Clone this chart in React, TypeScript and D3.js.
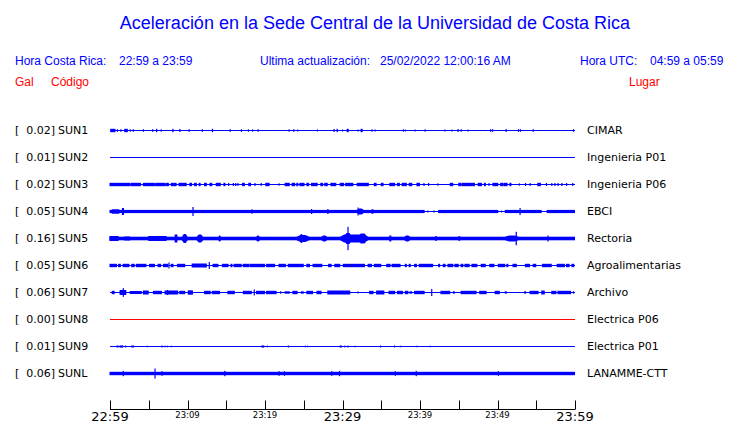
import React from "react";
import * as d3 from "d3";

// ---- data ----
const title = "Aceleración en la Sede Central de la Universidad de Costa Rica";
const stations = ["SUN1", "SUN2", "SUN3", "SUN4", "SUN5", "SUN6", "SUN7", "SUN8", "SUN9", "SUNL"];
const places = ["CIMAR", "Ingenieria P01", "Ingenieria P06", "EBCI", "Rectoria", "Agroalimentarias", "Archivo", "Electrica P06", "Electrica P01", "LANAMME-CTT"];
const peakGal = ["0.02", "0.01", "0.02", "0.05", "0.16", "0.05", "0.06", "0.00", "0.01", "0.06"];
const tickMinutes = [0, 5, 10, 15, 20, 25, 30, 35, 40, 45, 50, 55, 60];
const labelMinutes = [0, 10, 20, 30, 40, 50, 60];
const bigLabelMinutes = [0, 30, 60];

// events: [startMinute, endMinute, amplitude (gal)] relative to 22:59
const sun1Events = [[0.1,0.7,0.017],[0.95,0.95,0.013],[1.4,1.4,0.013],[1.9,2.3,0.017],[2.6,2.6,0.012],[3.0,3.0,0.013],[4.3,4.3,0.013],[5.5,5.5,0.013],[6.0,6.1,0.017],[6.6,6.6,0.012],[8.1,8.2,0.017],[9.0,9.0,0.015],[10.2,10.2,0.013],[11.9,11.9,0.013],[13.2,13.3,0.017],[15.5,15.5,0.013],[16.95,16.95,0.013],[17.85,17.85,0.012],[18.4,18.4,0.012],[19.1,19.1,0.013],[23.1,23.1,0.012],[23.7,23.7,0.013],[24.2,24.2,0.01],[26.75,26.75,0.01],[28.9,28.9,0.015],[29.3,29.4,0.017],[30.0,30.0,0.01],[30.6,30.8,0.017],[32.0,32.0,0.01],[32.4,32.6,0.017],[33.8,33.8,0.012],[34.2,34.2,0.01],[37.85,37.85,0.012],[38.1,38.1,0.01],[39.35,39.35,0.01],[40.65,40.65,0.012],[43.2,43.2,0.01],[44.1,44.1,0.01],[44.9,44.9,0.015],[45.3,45.3,0.013],[46.2,46.2,0.01],[49.1,49.1,0.013],[49.35,49.35,0.013],[51.1,51.1,0.015],[52.7,52.7,0.013],[52.95,52.95,0.013],[54.6,54.6,0.013],[59.8,59.8,0.013]];
const sun2Events: number[][] = [];
const sun3Events = [[0.0,2.6,0.017],[2.7,4.0,0.017],[4.3,5.8,0.017],[5.9,7.1,0.017],[7.2,7.6,0.017],[7.9,8.6,0.017],[8.9,9.9,0.017],[10.3,10.6,0.017],[10.9,11.2,0.017],[11.5,11.7,0.017],[12.2,12.5,0.017],[12.9,13.2,0.017],[13.7,14.3,0.017],[14.7,14.9,0.017],[15.3,15.3,0.015],[15.9,15.9,0.015],[16.2,16.2,0.015],[16.5,16.5,0.015],[17.1,17.4,0.017],[17.9,18.2,0.017],[18.7,18.7,0.015],[19.5,19.5,0.015],[20.1,20.6,0.017],[21.8,21.8,0.012],[22.6,23.2,0.017],[23.5,23.9,0.017],[24.1,24.3,0.017],[24.5,25.1,0.017],[25.4,25.7,0.017],[26.0,26.8,0.017],[27.2,27.5,0.017],[27.7,28.1,0.017],[28.5,29.2,0.017],[29.7,30.2,0.017],[30.4,31.4,0.017],[31.9,33.4,0.017],[34.1,34.4,0.017],[35.0,35.3,0.017],[36.1,36.8,0.017],[37.1,37.4,0.017],[37.7,38.3,0.017],[38.6,39.0,0.017],[39.6,40.0,0.017],[40.5,40.5,0.015],[41.1,41.1,0.015],[42.3,42.3,0.012],[43.9,44.3,0.017],[45.0,45.3,0.017],[45.4,47.1,0.017],[47.5,48.0,0.017],[48.3,48.5,0.017],[48.9,48.9,0.015],[49.4,50.1,0.017],[50.4,50.8,0.017],[50.9,51.3,0.017],[51.6,51.8,0.017],[52.8,52.8,0.012],[53.6,53.6,0.015],[54.2,54.2,0.015],[55.2,55.6,0.017],[56.3,56.3,0.015],[57.0,57.0,0.015],[57.4,57.4,0.015],[57.8,57.8,0.015],[58.3,58.3,0.015],[58.9,58.9,0.015],[59.7,59.7,0.015]];
const sun4Events = [[0.0,40.6,0.016],[42.4,50.1,0.016],[51.0,55.7,0.016],[56.4,60.0,0.016],[0.3,1.2,0.022],[1.6,1.8,0.035],[10.7,10.75,0.045],[18.3,18.4,0.022],[26.0,26.05,0.025],[28.1,28.15,0.025],[31.9,32.7,0.03],[32.0,32.05,0.04],[33.8,34.0,0.022],[41.0,41.1,0.01],[41.8,41.9,0.01],[50.5,50.6,0.01],[52.9,52.95,0.035]];
const sun5Events = [[0.0,60.0,0.018],[0.0,1.1,0.025],[1.9,2.6,0.02],[5.0,7.3,0.025],[8.4,8.7,0.04],[9.3,10.0,0.045],[11.2,12.0,0.04],[14.0,14.3,0.03],[18.9,19.3,0.03],[24.1,25.7,0.035],[24.5,24.9,0.045],[27.3,28.0,0.03],[29.7,33.3,0.04],[30.2,31.2,0.055],[30.7,30.75,0.117],[32.0,33.2,0.05],[36.1,36.3,0.03],[38.0,38.7,0.03],[42.0,42.2,0.022],[45.0,45.2,0.022],[51.0,52.7,0.03],[52.4,52.5,0.067],[56.5,56.6,0.03]];
const sun6Events = [[0.0,0.9,0.017],[1.1,1.4,0.017],[1.7,2.5,0.017],[2.8,3.2,0.017],[3.4,4.7,0.017],[5.1,5.8,0.017],[6.2,6.6,0.017],[6.9,7.5,0.017],[7.6,7.65,0.03],[7.9,8.2,0.017],[8.7,9.7,0.017],[10.6,12.5,0.02],[12.8,12.85,0.035],[13.3,14.0,0.017],[14.5,15.3,0.017],[15.6,15.8,0.017],[16.0,17.0,0.017],[17.2,18.0,0.017],[18.1,20.0,0.017],[20.2,21.3,0.017],[21.8,22.7,0.017],[23.0,25.0,0.017],[25.4,25.8,0.017],[26.2,27.4,0.017],[28.2,28.6,0.017],[29.0,29.7,0.017],[30.1,32.9,0.017],[33.3,33.8,0.017],[34.1,35.0,0.017],[35.7,36.2,0.017],[36.4,37.5,0.017],[38.1,38.3,0.017],[38.6,38.8,0.017],[39.3,39.6,0.017],[39.9,41.7,0.017],[42.4,42.6,0.017],[43.0,43.3,0.017],[43.6,44.3,0.017],[44.5,45.0,0.017],[45.3,45.6,0.017],[45.8,46.4,0.017],[46.7,47.4,0.017],[47.9,48.5,0.017],[49.0,49.6,0.017],[50.1,51.0,0.017],[51.2,51.4,0.017],[52.0,52.5,0.017],[53.6,54.2,0.017],[54.6,55.0,0.017],[55.8,57.0,0.017],[57.7,58.7,0.017],[58.9,59.3,0.017],[59.6,59.9,0.017]];
const sun7Events = [[0.3,0.6,0.017],[1.3,2.1,0.025],[1.7,1.8,0.043],[2.6,4.1,0.015],[4.3,5.0,0.02],[5.6,6.7,0.017],[7.1,8.8,0.02],[7.4,7.5,0.025],[9.0,9.7,0.017],[10.1,10.7,0.022],[12.2,13.0,0.017],[13.2,14.2,0.017],[15.2,16.1,0.017],[17.2,18.3,0.017],[18.6,18.65,0.03],[18.9,20.0,0.017],[20.2,21.5,0.017],[22.0,22.1,0.012],[22.6,23.2,0.012],[23.6,24.2,0.017],[24.7,25.0,0.012],[25.4,26.2,0.017],[26.7,27.3,0.017],[28.1,31.0,0.02],[32.0,32.0,0.01],[33.5,34.0,0.017],[34.4,35.4,0.02],[36.0,36.8,0.017],[37.1,37.8,0.017],[38.1,38.5,0.017],[38.7,39.0,0.012],[39.3,40.6,0.017],[41.5,41.55,0.035],[42.7,43.9,0.017],[44.3,44.5,0.012],[45.3,47.3,0.017],[47.7,48.6,0.017],[49.7,50.3,0.017],[51.0,51.2,0.012],[53.5,53.7,0.012],[54.2,55.3,0.017],[55.7,56.1,0.02],[57.0,57.6,0.017],[57.8,59.5,0.017],[59.8,59.8,0.012]];
const sun8Events: number[][] = [];
const sun9Events = [[0.9,1.1,0.01],[1.3,1.7,0.011],[2.0,2.0,0.01],[2.8,3.1,0.01],[4.8,4.8,0.008],[6.7,6.7,0.01],[7.1,7.1,0.008],[7.4,7.4,0.008],[7.9,7.9,0.008],[19.6,19.9,0.011],[20.3,20.3,0.009],[23.0,23.0,0.01],[25.2,25.2,0.008],[25.5,25.5,0.008],[29.7,29.9,0.011],[30.3,30.3,0.009],[30.7,30.7,0.01],[31.6,31.6,0.008],[34.9,34.9,0.01],[36.7,36.7,0.01],[37.5,37.5,0.008],[39.6,39.6,0.008],[41.3,41.3,0.008]];
const sunlEvents = [[0.0,60.0,0.017],[1.7,1.75,0.027],[5.8,5.85,0.05],[6.7,6.75,0.023],[14.8,14.85,0.027],[21.8,21.85,0.023],[22.5,22.55,0.023],[28.6,28.65,0.023],[29.6,29.65,0.027],[36.8,36.85,0.023],[39.5,39.55,0.027],[50.1,50.15,0.023]];
const stationEvents = [sun1Events, sun2Events, sun3Events, sun4Events, sun5Events, sun6Events, sun7Events, sun8Events, sun9Events, sunlEvents];

// ---- layout ----
const W = 740, H = 423;
const BLUE = "#0000ff";
const RED = "#ff0000";
const start = new Date(2022, 1, 24, 22, 59, 0);
const toDate = (m: number) => new Date(start.getTime() + m * 60000);

export default function App() {
  const x = d3.scaleTime().domain([toDate(0), toDate(60)]).range([110, 575]);
  const row = d3.scalePoint<string>().domain(stations).range([130, 373]);
  const amp = d3.scaleLinear().domain([0, 0.1]).range([0, 10]);
  const fmt = d3.timeFormat("%H:%M");
  const axisY = 409.5;
  const sans = "'Liberation Sans', Arial, sans-serif";
  const dv = "'DejaVu Sans', sans-serif";

  const burstPath = (x0: number, x1: number, cy: number, a: number, base: number) => {
    // tapered envelope for wide, strong bursts
    const w = x1 - x0;
    const r = Math.min(w * 0.3, 4);
    const b = Math.min(base, a);
    return `M${x0},${cy - b}L${x0 + r},${cy - a}L${x1 - r},${cy - a}L${x1},${cy - b}L${x1},${cy + b}L${x1 - r},${cy + a}L${x0 + r},${cy + a}L${x0},${cy + b}Z`;
  };

  return (
    <svg width={W} height={H} style={{ position: "absolute", left: 0, top: 0, background: "#fff" }}>
      <text x={375} y={29} textAnchor="middle" fontFamily={sans} fontSize={18} fill={BLUE}>{title}</text>
      <g fontFamily={sans} fontSize={12} fill={BLUE}>
        <text x={15} y={65}>Hora Costa Rica:</text>
        <text x={119} y={65}>22:59 a 23:59</text>
        <text x={260} y={65}>Ultima actualización:</text>
        <text x={380} y={65}>25/02/2022 12:00:16 AM</text>
        <text x={580} y={65}>Hora UTC:</text>
        <text x={650} y={65}>04:59 a 05:59</text>
      </g>
      <g fontFamily={sans} fontSize={12} fill={RED}>
        <text x={15} y={86}>Gal</text>
        <text x={51} y={86}>Código</text>
        <text x={629} y={86}>Lugar</text>
      </g>
      {stations.map((s, i) => {
        const cy = row(s)!;
        const color = s === "SUN8" ? RED : BLUE;
        return (
          <g key={s}>
            <g fontFamily={dv} fontSize={11} fill="#000">
              <text x={15} y={cy + 4}>[</text>
              <text x={55} y={cy + 4} textAnchor="end">{peakGal[i] + "]"}</text>
              <text x={58} y={cy + 4}>{s}</text>
              <text x={587} y={cy + 4}>{places[i]}</text>
            </g>
            <line x1={x(toDate(0))} x2={x(toDate(60))} y1={cy + 0.5} y2={cy + 0.5} stroke={color} strokeWidth={1} />
            {stationEvents[i].map((e, j) => {
              const x0 = x(toDate(e[0]));
              const x1 = x(toDate(e[1]));
              const a = amp(e[2]);
              const cyc = cy + 0.5;
              if (e[1] - e[0] >= 0.3 && e[1] - e[0] < 50 && e[2] >= 0.03) {
                return <path key={j} d={burstPath(x0, x1, cyc, a, amp(0.018))} fill={color} />;
              }
              return (
                <rect key={j} x={x0 - 0.5} width={Math.max(1.2, x1 - x0 + 0.5)} y={cyc - a} height={2 * a} fill={color} />
              );
            })}
          </g>
        );
      })}
      <g>
        <line x1={x(toDate(0))} x2={x(toDate(60))} y1={axisY} y2={axisY} stroke="#000" strokeWidth={1} />
        {tickMinutes.map((m) => (
          <line key={m} x1={Math.round(x(toDate(m))) + 0.5} x2={Math.round(x(toDate(m))) + 0.5} y1={axisY - 9} y2={axisY} stroke="#000" strokeWidth={1} />
        ))}
        {labelMinutes.map((m) => {
          const big = bigLabelMinutes.includes(m);
          return (
            <text key={m} x={x(toDate(m))} y={big ? 421 : 418} textAnchor="middle" fontFamily={dv} fontSize={big ? 13 : 8.5} fill="#000">
              {fmt(toDate(m))}
            </text>
          );
        })}
      </g>
    </svg>
  );
}
